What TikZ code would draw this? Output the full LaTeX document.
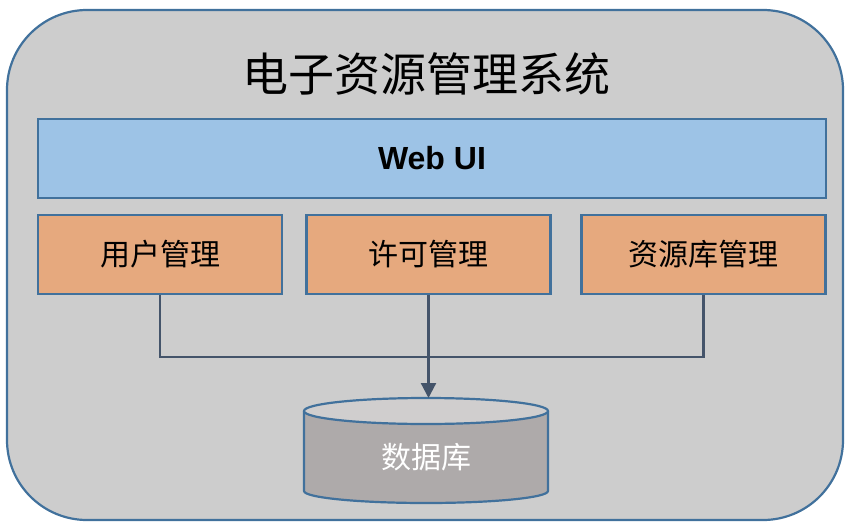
\documentclass[tikz,border=0pt]{standalone}
\usepackage{fontspec}
\setmainfont{Liberation Sans}
\newfontfamily\cjk{Noto Sans CJK SC}
\usetikzlibrary{arrows.meta}
\definecolor{bordblue}{HTML}{41719C}
\definecolor{bggray}{HTML}{CDCDCD}
\definecolor{uiblue}{HTML}{9DC3E6}
\definecolor{modorange}{HTML}{E6A97E}
\definecolor{cylbody}{HTML}{AEAAAA}
\definecolor{cyltop}{HTML}{D0CECE}
\definecolor{conn}{HTML}{44546A}
\tikzset{
  panel/.style={draw=bordblue, line width=2.2pt, fill=bggray, rounded corners=80pt},
  uibox/.style={draw=bordblue, line width=2.2pt, fill=uiblue, minimum width=788pt, minimum height=79pt, inner sep=0pt, font=\fontsize{32}{36}\selectfont\bfseries},
  modbox/.style={draw=bordblue, line width=2.2pt, fill=modorange, minimum width=244pt, minimum height=79pt, inner sep=0pt, font=\cjk\fontsize{30}{34}\selectfont},
  wire/.style={draw=conn, line width=2.2pt},
  cylline/.style={draw=bordblue, line width=2.2pt},
}
\begin{document}
\begin{tikzpicture}[x=1pt,y=-1pt]
\useasboundingbox (0,0) rectangle (846,522);
\draw[panel] (7,10) rectangle (843,520);
\node[font=\cjk\fontsize{46}{52}\selectfont] (title) at (426,74) {电子资源管理系统};
\node[uibox] (ui) at (432,158.5) {Web UI};
\node[modbox] (b1) at (160,254.5) {用户管理};
\node[modbox] (b2) at (428.5,254.5) {许可管理};
\node[modbox] (b3) at (703.5,254.5) {资源库管理};
% database cylinder
\fill[cylbody] (304,411) -- (304,491) arc[start angle=180,end angle=0,x radius=122,y radius=12] -- (548,411) -- cycle;
\draw[cylline] (304,411) -- (304,491) arc[start angle=180,end angle=0,x radius=122,y radius=12] -- (548,411);
\draw[cylline, fill=cyltop] (426,411) ellipse[x radius=122, y radius=13];
\node[text=white, font=\cjk\fontsize{30}{34}\selectfont] (db) at (426,457) {数据库};
\coordinate (dbtop) at (428.5,398);
\coordinate (j1) at (160,357);
\coordinate (j3) at (703.5,357);
\draw[wire] (b1.south) -- (j1) -- (j3) -- (b3.south);
\draw[wire, -{Triangle[length=15pt,width=15pt]}] (b2.south) -- (dbtop);
\end{tikzpicture}
\end{document}
